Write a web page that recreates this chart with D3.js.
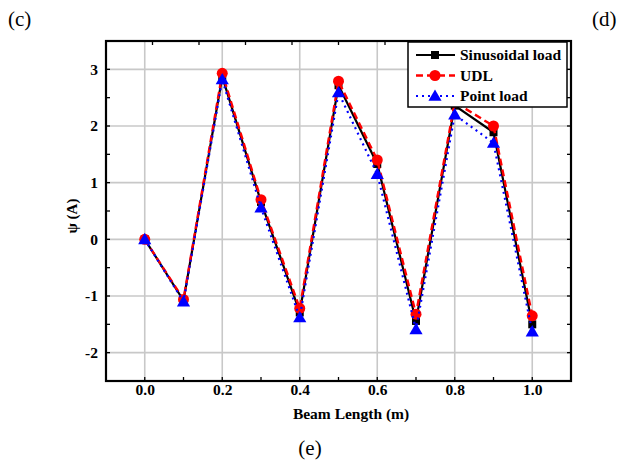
<!DOCTYPE html>
<html>
<head>
<meta charset="utf-8">
<script src="https://cdn.jsdelivr.net/npm/d3@7"></script>
<style>
  body { margin: 0; background: #fff; }
  svg { display: block; }
</style>
</head>
<body>
<script>
// data
const beamX = [0, 0.1, 0.2, 0.3, 0.4, 0.5, 0.6, 0.7, 0.8, 0.9, 1.0];
const sinusoidal = [0, -1.08, 2.87, 0.66, -1.29, 2.72, 1.33, -1.44, 2.36, 1.89, -1.5];
const udl = [0, -1.06, 2.93, 0.7, -1.22, 2.79, 1.4, -1.32, 2.42, 2.0, -1.35];
const pointLoad = [0, -1.1, 2.82, 0.56, -1.38, 2.59, 1.15, -1.59, 2.2, 1.7, -1.63];
const seriesNames = ["Sinusoidal load", "UDL", "Point load"];
const xTicks = [0, 0.2, 0.4, 0.6, 0.8, 1.0];
const yTicks = [-2, -1, 0, 1, 2, 3];

const width = 620, height = 464;
const margin = {left: 106, right: 49, top: 41, bottom: 83};

const svg = d3.select("body").append("svg")
              .attr("width", width)
              .attr("height", height);

const x = d3.scaleLinear().domain([-0.1, 1.1]).range([margin.left, width - margin.right]),
      y = d3.scaleLinear().domain([-2.5, 3.5]).range([height - margin.bottom, margin.top]);

const serif = "'Liberation Serif', 'Times New Roman', serif";

// grid
const grid = svg.append("g").attr("stroke", "#c8c8c8").attr("stroke-width", 1.6);
grid.selectAll(".gx").data(xTicks).join("line")
    .attr("x1", d => x(d)).attr("x2", d => x(d))
    .attr("y1", y.range()[1]).attr("y2", y.range()[0]);
grid.selectAll(".gy").data(yTicks).join("line")
    .attr("y1", d => y(d)).attr("y2", d => y(d))
    .attr("x1", x.range()[0]).attr("x2", x.range()[1]);

// axes
const xAxis = svg.append("g")
   .attr("transform", "translate(0," + y.range()[0] + ")")
   .call(d3.axisBottom(x).tickValues(xTicks).tickFormat(d => d.toFixed(1)).tickSize(0).tickPadding(3));
xAxis.selectAll("text").attr("font-size", 15.5).attr("font-family", serif).attr("font-weight", "bold");

const yAxis = svg.append("g")
   .attr("transform", "translate(" + x.range()[0] + ",0)")
   .call(d3.axisLeft(y).tickValues(yTicks).tickFormat(d => String(d)).tickSize(0).tickPadding(8));
yAxis.selectAll("text").attr("font-size", 15.5).attr("font-family", serif).attr("font-weight", "bold");
svg.selectAll(".domain").remove();

// small inward ticks
const tk = svg.append("g").attr("stroke", "#000").attr("stroke-width", 1.3);
tk.selectAll(".xm").data(d3.range(-0.1, 1.11, 0.1)).join("line")
  .attr("x1", d => x(d)).attr("x2", d => x(d))
  .attr("y1", y.range()[0]).attr("y2", y.range()[0] - 4);
tk.selectAll(".xt").data(d3.range(0, 11).map(i => -0.1 + 0.12 * i)).join("line")
  .attr("x1", d => x(d)).attr("x2", d => x(d))
  .attr("y1", y.range()[1]).attr("y2", y.range()[1] + 4);
tk.selectAll(".yl").data(d3.range(-2.5, 3.6, 0.5)).join("line")
  .attr("x1", x.range()[0]).attr("x2", x.range()[0] + 4)
  .attr("y1", d => y(d)).attr("y2", d => y(d));
tk.selectAll(".yr").data(d3.range(-2.5, 3.6, 0.5)).join("line")
  .attr("x1", x.range()[1]).attr("x2", x.range()[1] - 4)
  .attr("y1", d => y(d)).attr("y2", d => y(d));

// frame
svg.append("rect")
   .attr("x", x.range()[0]).attr("y", y.range()[1])
   .attr("width", x.range()[1] - x.range()[0])
   .attr("height", y.range()[0] - y.range()[1])
   .attr("fill", "none").attr("stroke", "#000").attr("stroke-width", 2.2);

// series
const series = [
  {name: seriesNames[0], values: sinusoidal, color: "#000", dash: null, width: 2.2, marker: "square"},
  {name: seriesNames[1], values: udl, color: "#ff0000", dash: "7,4", width: 2.4, marker: "circle"},
  {name: seriesNames[2], values: pointLoad, color: "#0000ff", dash: "2,4", width: 2.2, marker: "triangle"}
];

const line = d3.line().x((d, i) => x(beamX[i])).y(d => y(d));

function marker(g, s, cx, cy) {
  if (s.marker === "square") {
    g.append("path").attr("d", d3.symbol(d3.symbolSquare, 64)()).attr("transform", "translate(" + cx + "," + cy + ")").attr("fill", s.color);
  } else if (s.marker === "circle") {
    g.append("circle").attr("cx", cx).attr("cy", cy).attr("r", 5.5).attr("fill", s.color);
  } else {
    g.append("path").attr("d", d3.symbol(d3.symbolTriangle, 75)()).attr("transform", "translate(" + cx + "," + (cy + 1) + ")").attr("fill", s.color);
  }
}

series.forEach(s => {
  const g = svg.append("g");
  g.append("path")
   .attr("d", line(s.values))
   .attr("fill", "none")
   .attr("stroke", s.color)
   .attr("stroke-width", s.width)
   .attr("stroke-dasharray", s.dash);
  s.values.forEach((v, i) => marker(g, s, x(beamX[i]), y(v)));
});

// legend
const lg = svg.append("g").attr("transform", "translate(408,42)");
lg.append("rect").attr("width", 159).attr("height", 65)
  .attr("fill", "#fff").attr("stroke", "#000").attr("stroke-width", 1.5);
series.forEach((s, i) => {
  const ly = 13 + i * 20.5;
  lg.append("line").attr("x1", 8).attr("x2", 47).attr("y1", ly).attr("y2", ly)
    .attr("stroke", s.color).attr("stroke-width", s.width).attr("stroke-dasharray", s.dash);
  marker(lg, s, 27, ly);
  lg.append("text").attr("x", 52).attr("y", ly + 5)
    .attr("font-family", serif).attr("font-weight", "bold").attr("font-size", 15.5)
    .text(s.name);
});

// axis titles
svg.append("text")
   .attr("transform", "translate(77,216) rotate(-90)")
   .attr("text-anchor", "middle")
   .attr("font-family", serif).attr("font-weight", "bold").attr("font-size", 15)
   .text("ψ (A)");
svg.append("text")
   .attr("x", 351).attr("y", 419)
   .attr("text-anchor", "middle")
   .attr("font-family", serif).attr("font-weight", "bold").attr("font-size", 15.5)
   .text("Beam Length (m)");

// panel labels
svg.append("text").attr("x", 8).attr("y", 26)
   .attr("font-family", serif).attr("font-size", 21).text("(c)");
svg.append("text").attr("x", 592).attr("y", 26)
   .attr("font-family", serif).attr("font-size", 21).text("(d)");
svg.append("text").attr("x", 310).attr("y", 455).attr("text-anchor", "middle")
   .attr("font-family", serif).attr("font-size", 21).text("(e)");
</script>
</body>
</html>
